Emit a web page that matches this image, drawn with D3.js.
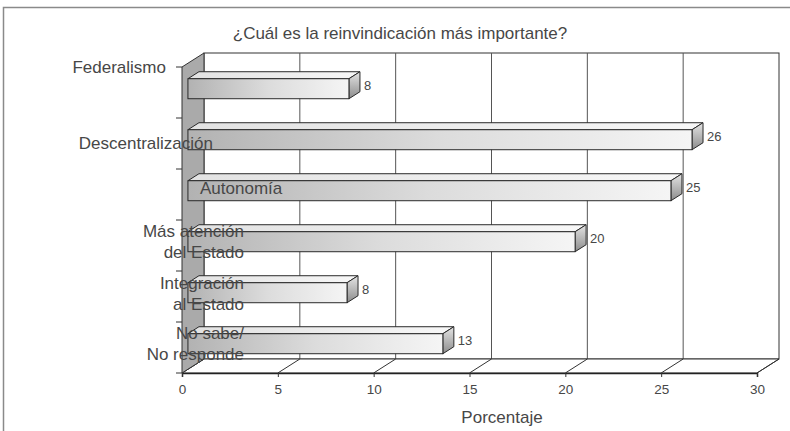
<!DOCTYPE html>
<html>
<head>
<meta charset="utf-8">
<script src="https://cdn.jsdelivr.net/npm/d3@7"></script>
<style>
  body { margin: 0; background: #fff; }
  svg text { font-family: "Liberation Sans", Arial, sans-serif; fill: #474747; }
</style>
</head>
<body>
<svg id="chart" width="790" height="431"></svg>
<script>
// Data
const categories = ["Federalismo", "Descentralización", "Autonomía", "Más atención del Estado", "Integración al Estado", "No sabe/ No responde"];
const categoryLines = [["Federalismo"], ["Descentralización"], ["Autonomía"], ["Más atención", "del Estado"], ["Integración", "al Estado"], ["No sabe/", "No responde"]];
const values = [8.4, 26.3, 25.2, 20.2, 8.3, 13.3];
const valueLabels = ["8", "26", "25", "20", "8", "13"];
const xTicks = [0, 5, 10, 15, 20, 25, 30];
const title = "¿Cuál es la reinvindicación más importante?";
const xTitle = "Porcentaje";

// Label placement (the original puts them a bit off the bands)
const labelPlace = [
    { x: 166, dy: -25.5, anchor: "end" },
    { x: 213, dy: 0, anchor: "end" },
    { x: 200, dy: -6.5, anchor: "start" },
    { x: 244, dy: -4, anchor: "end" },
    { x: 244, dy: -2.5, anchor: "end" },
    { x: 244, dy: -3.5, anchor: "end" }
];

const svg = d3.select("#chart");

// 3D geometry: front plane + depth vector
const x = d3.scaleLinear().domain([0, 30]).range([182, 757]);
const y = d3.scaleBand().domain(categories).range([67, 373]).padding(0);
const DX = 22, DY = -14;
const f0 = 0.27, f1 = 0.77;     // bar depth span
const barH = 20;
const yTop = 67, yBot = 373;

// gradients
const defs = svg.append("defs");
const gFront = defs.append("linearGradient").attr("id", "gFront");
gFront.append("stop").attr("offset", "0%").attr("stop-color", "#b2b2b2");
gFront.append("stop").attr("offset", "50%").attr("stop-color", "#dcdcdc");
gFront.append("stop").attr("offset", "100%").attr("stop-color", "#f5f5f5");
const gTop = defs.append("linearGradient").attr("id", "gTop");
gTop.append("stop").attr("offset", "0%").attr("stop-color", "#e2e2e2");
gTop.append("stop").attr("offset", "100%").attr("stop-color", "#f7f7f7");
const gEnd = defs.append("linearGradient").attr("id", "gEnd")
    .attr("x1", 0).attr("y1", 0).attr("x2", 0).attr("y2", 1);
gEnd.append("stop").attr("offset", "0%").attr("stop-color", "#e4e4e4");
gEnd.append("stop").attr("offset", "100%").attr("stop-color", "#8c8c8c");

// outer frame
svg.append("rect")
    .attr("x", 3.5).attr("y", 7.5).attr("width", 820).attr("height", 460)
    .attr("fill", "none").attr("stroke", "#8a8a8a").attr("stroke-width", 1.5);

const pt = (px, py) => px + "," + py;

// back wall
svg.append("rect")
    .attr("x", x(0) + DX).attr("y", yTop + DY)
    .attr("width", x(30) - x(0)).attr("height", yBot - yTop)
    .attr("fill", "#fff").attr("stroke", "#333").attr("stroke-width", 1);

svg.append("g").selectAll("line")
    .data(xTicks.slice(1, -1))
    .join("line")
    .attr("x1", d => x(d) + DX).attr("x2", d => x(d) + DX)
    .attr("y1", yTop + DY).attr("y2", yBot + DY)
    .attr("stroke", "#555").attr("stroke-width", 1);

// floor
svg.append("polygon")
    .attr("points", [pt(x(0), yBot), pt(x(30), yBot), pt(x(30) + DX, yBot + DY), pt(x(0) + DX, yBot + DY)].join(" "))
    .attr("fill", "#fff").attr("stroke", "#333").attr("stroke-width", 1);

svg.append("g").selectAll("line")
    .data(xTicks)
    .join("line")
    .attr("x1", d => x(d)).attr("y1", yBot)
    .attr("x2", d => x(d) + DX).attr("y2", yBot + DY)
    .attr("stroke", "#333").attr("stroke-width", 1);

// x ticks + labels
const xAxis = svg.append("g").attr("transform", `translate(0,${yBot})`)
    .call(d3.axisBottom(x).tickValues(xTicks).tickSize(4).tickPadding(7));
xAxis.select(".domain").attr("stroke", "#222").attr("stroke-width", 1.5);
xAxis.selectAll(".tick line").attr("stroke", "#333");
xAxis.selectAll(".tick text")
    .attr("font-family", "Liberation Sans, Arial, sans-serif")
    .attr("font-size", 13.5).attr("fill", "#474747");

// left wall
svg.append("polygon")
    .attr("points", [pt(x(0), yTop), pt(x(0) + DX, yTop + DY), pt(x(0) + DX, yBot + DY), pt(x(0), yBot)].join(" "))
    .attr("fill", "#aaaaaa").attr("stroke", "#333").attr("stroke-width", 1);

// y ticks
const yEdges = categories.map(c => y(c)).concat([yBot]);
svg.append("g").selectAll("line")
    .data(yEdges)
    .join("line")
    .attr("x1", x(0) - 6).attr("x2", x(0))
    .attr("y1", d => d).attr("y2", d => d)
    .attr("stroke", "#333").attr("stroke-width", 1);

// bars
const bars = svg.append("g").selectAll("g")
    .data(categories.map((c, i) => ({ c, v: values[i], label: valueLabels[i] })))
    .join("g");

function barGeom(d) {
    const cy = y(d.c) + y.bandwidth() / 2;
    const fx0 = x(0) + DX * f0, fx1 = x(d.v) + DX * f0;
    const fy0 = cy - barH / 2 + DY * f0, fy1 = cy + barH / 2 + DY * f0;
    const ddx = DX * (f1 - f0), ddy = DY * (f1 - f0);
    return { fx0, fx1, fy0, fy1, ddx, ddy };
}

bars.append("polygon")
    .attr("points", d => {
        const g = barGeom(d);
        return [pt(g.fx0, g.fy0), pt(g.fx0 + g.ddx, g.fy0 + g.ddy), pt(g.fx1 + g.ddx, g.fy0 + g.ddy), pt(g.fx1, g.fy0)].join(" ");
    })
    .attr("fill", "url(#gTop)").attr("stroke", "#2a2a2a").attr("stroke-width", 1).attr("stroke-linejoin", "round");

bars.append("polygon")
    .attr("points", d => {
        const g = barGeom(d);
        return [pt(g.fx1, g.fy0), pt(g.fx1 + g.ddx, g.fy0 + g.ddy), pt(g.fx1 + g.ddx, g.fy1 + g.ddy), pt(g.fx1, g.fy1)].join(" ");
    })
    .attr("fill", "url(#gEnd)").attr("stroke", "#2a2a2a").attr("stroke-width", 1).attr("stroke-linejoin", "round");

bars.append("rect")
    .attr("x", d => barGeom(d).fx0)
    .attr("y", d => barGeom(d).fy0)
    .attr("width", d => barGeom(d).fx1 - barGeom(d).fx0)
    .attr("height", barH)
    .attr("fill", "url(#gFront)").attr("stroke", "#2a2a2a").attr("stroke-width", 1);

bars.append("text")
    .attr("x", d => { const g = barGeom(d); return g.fx1 + g.ddx + 4; })
    .attr("y", d => { const g = barGeom(d); return (g.fy0 + g.fy1) / 2 + g.ddy / 2; })
    .attr("dominant-baseline", "central")
    .attr("font-size", 13)
    .text(d => d.label);

// category labels
const lineH = 21;
svg.append("g").selectAll("text")
    .data(categories)
    .join("text")
    .attr("text-anchor", (d, i) => labelPlace[i].anchor)
    .attr("font-size", 17)
    .each(function (d, i) {
        const lines = categoryLines[i];
        const cy = y(d) + y.bandwidth() / 2 + labelPlace[i].dy;
        const t = d3.select(this);
        lines.forEach((ln, k) => {
            t.append("tspan")
                .attr("x", labelPlace[i].x)
                .attr("y", cy + (k - (lines.length - 1) / 2) * lineH)
                .attr("dominant-baseline", "central")
                .text(ln);
        });
    });

// titles
svg.append("text")
    .attr("x", 400).attr("y", 33)
    .attr("text-anchor", "middle").attr("dominant-baseline", "central")
    .attr("font-size", 17)
    .text(title);

svg.append("text")
    .attr("x", 502).attr("y", 417)
    .attr("text-anchor", "middle").attr("dominant-baseline", "central")
    .attr("font-size", 17)
    .text(xTitle);
</script>
</body>
</html>
